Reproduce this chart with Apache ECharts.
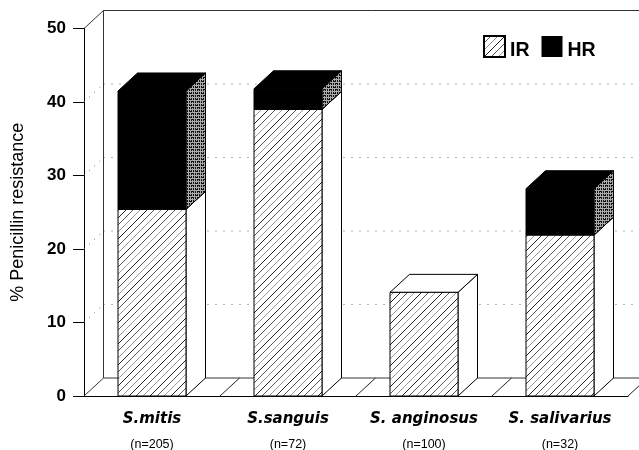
<!DOCTYPE html>
<html>
<head>
<meta charset="utf-8">
<style>
  html, body { margin: 0; padding: 0; background: #fff; }
  #chart { width: 639px; height: 450px; }
</style>
<script src="https://cdn.jsdelivr.net/npm/echarts@6/dist/echarts.min.js"></script>
</head>
<body>
<div id="chart"></div>
<script>
const categories = ['S.mitis', 'S.sanguis', 'S. anginosus', 'S. salivarius'];
const sampleSizes = ['(n=205)', '(n=72)', '(n=100)', '(n=32)'];
const irValues = [25.4, 39.0, 14.1, 21.9];
const hrValues = [16.1, 2.8, 0, 6.3];
const yTicks = [0, 10, 20, 30, 40, 50];

const BAR_WIDTH = 68;
const DEPTH_X = 19.5;
const DEPTH_Y = -18;

// hatch tile: scanned diagonals of uneven darkness
function makeHatch() {
    const c = document.createElement('canvas');
    c.width = c.height = 21;
    const g = c.getContext('2d');
    g.fillStyle = '#fff';
    g.fillRect(0, 0, 21, 21);
    const diag = (off, color) => {
        g.strokeStyle = color;
        g.lineWidth = 1;
        g.beginPath();
        g.moveTo(off - 21, 21);
        g.lineTo(off, 0);
        g.moveTo(off, 21);
        g.lineTo(off + 21, 0);
        g.stroke();
    };
    diag(0, '#222');
    diag(7, '#555');
    diag(14, '#999');
    return c;
}

// dither tile for the shaded side of the black segment
function makeDither() {
    const rows = ['#.#.#.', '######', '#.#.#.', '#.#...', '######', '..#.#.'];
    const c = document.createElement('canvas');
    c.width = c.height = 6;
    const g = c.getContext('2d');
    g.fillStyle = '#111';
    g.fillRect(0, 0, 6, 6);
    g.fillStyle = '#aaa';
    rows.forEach((r, y) => r.split('').forEach((ch, x) => {
        if (ch === '#') g.fillRect(x, y, 1, 1);
    }));
    return c;
}

const hatch = {image: makeHatch(), repeat: 'repeat'};
const dither = {image: makeDither(), repeat: 'repeat'};

function poly(points, fill) {
    return {
        type: 'polygon',
        shape: {points: points},
        style: {fill: fill, stroke: '#000', lineWidth: 1}
    };
}

function wallLine(x1, y1, x2, y2, color, dash) {
    return {
        type: 'line',
        shape: {x1: x1, y1: y1, x2: x2, y2: y2},
        style: {stroke: color, lineWidth: 1, lineDash: dash || null}
    };
}

// one 3d box, front face + top + right side
function boxRenderer(frontFill, topFill, sideFill) {
    return (params, api) => {
        if (api.value(2) <= api.value(1)) return null;
        const c0 = api.coord([api.value(0), api.value(1)]);
        const c1 = api.coord([api.value(0), api.value(2)]);
        const l = c0[0] - BAR_WIDTH / 2, r = c0[0] + BAR_WIDTH / 2;
        const b = c0[1], t = c1[1];
        return {
            type: 'group',
            children: [
                poly([[r, t], [r + DEPTH_X, t + DEPTH_Y], [r + DEPTH_X, b + DEPTH_Y], [r, b]], sideFill),
                poly([[l, t], [l + DEPTH_X, t + DEPTH_Y], [r + DEPTH_X, t + DEPTH_Y], [r, t]], topFill),
                poly([[l, t], [r, t], [r, b], [l, b]], frontFill)
            ]
        };
    };
}

// back wall grid, dotted between the ticks
function renderWall(params, api) {
    const tick = api.value(0);
    const p = api.coord([0, tick]);
    const x0 = params.coordSys.x;
    const x1 = x0 + params.coordSys.width;
    const y = p[1];
    const solid = tick === 0 || tick === 50;
    const color = solid ? '#333' : '#666';
    const dash = solid ? null : [1, 7];
    const kids = [
        wallLine(x0, y, x0 + DEPTH_X, y + DEPTH_Y, color, solid ? null : [1, 6]),
        wallLine(x0 + DEPTH_X, y + DEPTH_Y, x1 + DEPTH_X, y + DEPTH_Y, color, dash)
    ];
    if (tick === 50) {
        const y0 = api.coord([0, 0])[1];
        kids.push(wallLine(x0 + DEPTH_X, y + DEPTH_Y, x0 + DEPTH_X, y0 + DEPTH_Y, '#333'));
    }
    return {type: 'group', children: kids};
}

// floor dividers at the category boundaries
function renderFloor(params, api) {
    const p = api.coord([api.value(0), 0]);
    const x = p[0] + api.size([1, 0])[0] / 2;
    return wallLine(x, p[1], x + DEPTH_X, p[1] + DEPTH_Y, '#222');
}

const chart = echarts.init(document.getElementById('chart'), null, {renderer: 'canvas'});
chart.setOption({
    animation: false,
    backgroundColor: '#fff',
    grid: {left: 84, right: 11, top: 28.5, bottom: 54, outerBoundsMode: 'none'},
    legend: {
        data: [{name: 'IR', icon: 'rect'}, {name: 'HR', icon: 'rect'}],
        left: 483,
        top: 35,
        padding: 0,
        itemWidth: 21,
        itemHeight: 21,
        itemGap: 12,
        selectedMode: false,
        formatter: name => `{t|${name}}`,
        textStyle: {
            rich: {
                t: {
                    fontFamily: 'Liberation Sans',
                    fontWeight: 'bold',
                    fontSize: 19.5,
                    color: '#000',
                    padding: [8, 0, 0, 0]
                }
            }
        }
    },
    xAxis: {
        type: 'category',
        data: categories,
        axisLine: {lineStyle: {color: '#000', width: 1}},
        axisTick: {alignWithLabel: true, length: 7, lineStyle: {color: '#000'}},
        axisLabel: {
            interval: 0,
            margin: 11,
            formatter: (value, i) => `{name|${value}}\n{n|${sampleSizes[i]}}`,
            rich: {
                name: {
                    fontFamily: 'DejaVu Sans',
                    fontWeight: 'bold',
                    fontStyle: 'italic',
                    fontSize: 15,
                    color: '#000',
                    lineHeight: 25
                },
                n: {
                    fontFamily: 'Liberation Sans',
                    fontSize: 12.5,
                    color: '#000',
                    lineHeight: 25
                }
            }
        }
    },
    yAxis: {
        type: 'value',
        min: 0,
        max: 50,
        interval: 10,
        name: '% Penicillin resistance',
        nameLocation: 'middle',
        nameGap: 57,
        nameTextStyle: {fontFamily: 'Liberation Sans', fontSize: 18, color: '#000'},
        splitLine: {show: false},
        axisLine: {show: true, lineStyle: {color: '#000', width: 1}},
        axisTick: {show: true, length: 11, lineStyle: {color: '#000'}},
        axisLabel: {
            margin: 18,
            fontFamily: 'Liberation Sans',
            fontWeight: 'bold',
            fontSize: 17,
            color: '#000'
        }
    },
    series: [
        {
            type: 'custom',
            name: 'wall',
            silent: true,
            clip: false,
            z: 1,
            renderItem: renderWall,
            encode: {y: 0},
            data: yTicks.map(t => [t])
        },
        {
            type: 'custom',
            name: 'floor',
            silent: true,
            clip: false,
            z: 1,
            renderItem: renderFloor,
            encode: {x: 0},
            data: categories.map((c, i) => [i])
        },
        {
            type: 'custom',
            name: 'IR',
            silent: true,
            clip: false,
            z: 3,
            itemStyle: {color: hatch, borderColor: '#000', borderWidth: 1},
            renderItem: boxRenderer(hatch, '#fff', '#fff'),
            encode: {x: 0, y: [1, 2]},
            data: irValues.map((v, i) => [i, 0, v])
        },
        {
            type: 'custom',
            name: 'HR',
            silent: true,
            clip: false,
            z: 4,
            itemStyle: {color: '#000'},
            renderItem: boxRenderer('#000', '#000', dither),
            encode: {x: 0, y: [1, 2]},
            data: hrValues.map((v, i) => [i, irValues[i], irValues[i] + v])
        }
    ]
});
</script>
</body>
</html>
